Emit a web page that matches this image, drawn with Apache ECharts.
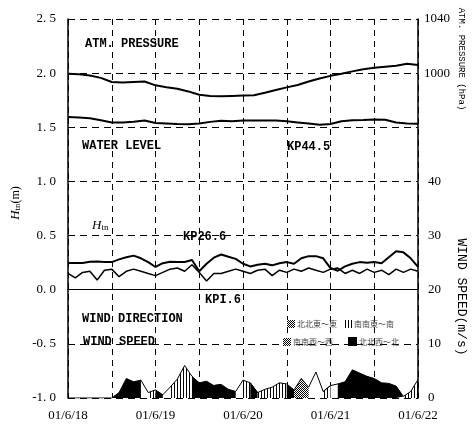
<!DOCTYPE html>
<html><head><meta charset="utf-8">
<script src="https://cdn.jsdelivr.net/npm/echarts/dist/echarts.min.js"></script>
<style>html,body{margin:0;padding:0;background:#fff}#c{width:473px;height:429px}</style>
</head><body><div id="c"></div>
<script>
// ---- data ----
const dateLabels = ['01/6/18','01/6/19','01/6/20','01/6/21','01/6/22'];
const pressureHours = [0,3,6,9,12,15,18,21,24,27,30,33,36,39,42,45,48,51,54,57,60,63,66,69,72,75,78,81,84,87,90,93,96];
const pressure = [999.6,999.2,998.3,996.5,993.5,993,993.5,993.8,991,989.5,988.5,986.5,984,983.2,983,983.2,983.4,983.6,985.5,987.5,989.5,991.2,993.8,996,998,999.5,1001.3,1002.8,1004,1004.8,1005.5,1007,1006];
const waterLevel = [1.595,1.59,1.583,1.565,1.545,1.545,1.552,1.562,1.54,1.535,1.53,1.528,1.535,1.55,1.56,1.555,1.562,1.562,1.562,1.562,1.555,1.545,1.535,1.523,1.53,1.555,1.565,1.568,1.572,1.57,1.545,1.535,1.533];
const hnHours = [0,2,4,6,8,10,12,14,16,18,20,22,24,26,28,30,32,34,36,38,40,42,44,46,48,50,52,54,56,58,60,62,64,66,68,70,72,74,76,78,80,82,84,86,88,90,92,94,96];
const hnKP266 = [0.246,0.246,0.246,0.258,0.26,0.256,0.255,0.28,0.30,0.315,0.29,0.255,0.21,0.245,0.258,0.255,0.256,0.275,0.17,0.24,0.296,0.325,0.305,0.285,0.24,0.215,0.23,0.24,0.225,0.245,0.255,0.24,0.29,0.31,0.31,0.29,0.2,0.175,0.215,0.24,0.255,0.25,0.255,0.245,0.3,0.355,0.345,0.29,0.21];
const hnKP16 = [0.15,0.11,0.16,0.17,0.09,0.18,0.19,0.12,0.17,0.19,0.17,0.15,0.13,0.16,0.19,0.2,0.17,0.23,0.16,0.08,0.15,0.15,0.17,0.19,0.17,0.15,0.18,0.19,0.13,0.18,0.16,0.19,0.17,0.2,0.18,0.16,0.19,0.2,0.15,0.18,0.15,0.19,0.16,0.18,0.14,0.19,0.16,0.19,0.17];
const windHours = [0,2,4,6,8,10,12,14,16,18,20,22,24,26,28,30,32,34,36,38,40,42,44,46,48,50,52,54,56,58,60,62,64,66,68,70,72,74,76,78,80,82,84,86,88,90,92,94,96];
const windSpeed = [0,0,0,0,0,0,0,1.0,3.6,3.0,3.3,1.0,1.5,0.6,2.0,3.5,6.0,4.0,2.8,3.1,2.3,2.5,1.6,1.2,3.3,2.8,1.0,1.6,2.0,2.8,2.6,1.5,3.6,2.0,4.8,1.2,2.3,2.6,3.0,5.2,4.6,4.0,3.6,2.8,2.7,2.2,0.3,1.2,3.4];
const windDir = ['W','W','W','W','W','W','B','B','B','B','W','H','B','W','H','H','H','B','B','B','H','B','B','W','H','B','H','H','H','H','B','D','D','W','W','H','W','B','B','B','B','B','B','B','B','B','H','H','H'];
const legendTexts = ['北北東～東','南南東～南','南南西～西','北北西～北'];

// ---- patterns ----
function pat(kind){
  const c=document.createElement('canvas');
  if(kind==='H'){c.width=3;c.height=2;const g=c.getContext('2d');g.fillStyle='#fff';g.fillRect(0,0,3,2);g.fillStyle='#000';g.fillRect(0,0,1,2);}
  else {c.width=2;c.height=2;const g=c.getContext('2d');g.fillStyle='#fff';g.fillRect(0,0,2,2);g.fillStyle='#000';g.fillRect(0,0,1,1);g.fillRect(1,1,1,1);}
  return {image:c,repeat:'repeat'};
}
const fills = {W:'#fff', H:pat('H'), D:pat('D'), B:'#000'};

const zip = (xs,ys)=>xs.map((x,i)=>[x,ys[i]]);
const windSeries = ['W','H','D','B'].map(cat=>({
  type:'line', yAxisIndex:2, symbol:'none', silent:true, z:3,
  data: windHours.map((h,i)=>[h,(windDir[i]===cat||(i>0&&windDir[i-1]===cat))?windSpeed[i]:null]),
  lineStyle:{color:'#000',width:1}, areaStyle:{color:fills[cat],opacity:1}
}));

const lineS = (data,yi,w)=>({type:'line',yAxisIndex:yi,symbol:'none',silent:true,z:4,data,lineStyle:{color:'#000',width:w}});
const ann = (text,x,y,extra)=>Object.assign({type:'text',x,y,z:10,style:{text,font:'bold 12px "Liberation Mono"',fill:'#000',textVerticalAlign:'middle'}},extra||{});

const numFont = {fontFamily:'Liberation Serif',fontSize:13,color:'#000'};
const option = {
  animation:false,
  grid:{left:68,right:55,top:19,bottom:31},
  xAxis:{type:'value',min:0,max:96,interval:12,
    axisLine:{lineStyle:{color:'#000'}},axisTick:{show:false},
    splitLine:{show:true,lineStyle:{color:'#000',type:[6,5],width:1}},
    axisLabel:Object.assign({margin:11,formatter:v=>v%24===0?dateLabels[v/24]:''},numFont)},
  yAxis:[
    {type:'value',min:-1,max:2.5,interval:0.5,position:'left',
      axisLine:{show:true,lineStyle:{color:'#000',width:1.5}},axisTick:{show:false},
      splitLine:{show:true,lineStyle:{color:'#000',type:[7,5],width:1}},
      axisLabel:Object.assign({margin:12,formatter:v=>v.toFixed(1).replace('.','. ')},numFont)},
    {type:'value',min:760,max:1040,interval:40,position:'right',
      axisLine:{show:true,lineStyle:{color:'#000',width:1.5}},axisTick:{show:false},splitLine:{show:false},
      axisLabel:Object.assign({margin:6,formatter:v=>v>=1000?String(v):''},numFont)},
    {type:'value',min:0,max:70,interval:10,position:'right',
      axisLine:{show:false},axisTick:{show:false},splitLine:{show:false},
      axisLabel:Object.assign({margin:10,formatter:v=>v<=40?String(v):''},numFont)}
  ],
  series:[
    ...windSeries,
    lineS(zip(pressureHours,pressure),1,2),
    lineS(zip(pressureHours,waterLevel),0,2),
    lineS(zip(hnHours,hnKP266),0,2),
    lineS(zip(hnHours,hnKP16),0,1.5)
  ],
  graphic:{elements:[
    ann('ATM. PRESSURE',85,44),
    ann('WATER LEVEL',82,146),
    ann('KP44.5',287,147),
    ann('KP26.6',183,237),
    ann('KPI.6',205,300),
    ann('WIND DIRECTION',82,319),
    ann('WIND SPEED',83,342),
    {type:'text',x:92,y:226,z:10,style:{text:'{h|H}{s|tn}',textVerticalAlign:'middle',rich:{h:{font:'italic 13px "Liberation Serif"',fill:'#000'},s:{font:'9px "Liberation Serif"',fill:'#000',verticalAlign:'bottom'}}}},
    {type:'text',x:16,y:203,rotation:Math.PI/2,z:10,style:{text:'{h|H}{s|tn}{n|(m)}',textAlign:'center',textVerticalAlign:'middle',rich:{h:{font:'italic 13px "Liberation Serif"',fill:'#000'},s:{font:'9px "Liberation Serif"',fill:'#000',verticalAlign:'bottom'},n:{font:'12px "Liberation Serif"',fill:'#000'}}}},
    {type:'text',x:461,y:59,rotation:-Math.PI/2,z:10,style:{text:'ATM. PRESSURE (hPa)',font:'9px "Liberation Mono"',fill:'#000',textAlign:'center',textVerticalAlign:'middle'}},
    {type:'text',x:461,y:297,rotation:-Math.PI/2,z:10,style:{text:'WIND SPEED(m/s)',font:'13px "Liberation Mono"',fill:'#000',textAlign:'center',textVerticalAlign:'middle'}},
    // legend
    {type:'rect',shape:{x:287,y:320,width:8,height:8},z:10,style:{fill:fills.D,stroke:null}},
    {type:'text',x:297,y:324,z:10,style:{text:legendTexts[0],font:'8px "Noto Sans CJK JP"',fill:'#444',textVerticalAlign:'middle'}},
    {type:'rect',shape:{x:344,y:320,width:8,height:8},z:10,style:{fill:fills.H,stroke:null}},
    {type:'text',x:354,y:324,z:10,style:{text:legendTexts[1],font:'8px "Noto Sans CJK JP"',fill:'#444',textVerticalAlign:'middle'}},
    {type:'rect',shape:{x:283,y:338,width:8,height:8},z:10,style:{fill:fills.D,stroke:null}},
    {type:'text',x:293,y:342,z:10,style:{text:legendTexts[2],font:'8px "Noto Sans CJK JP"',fill:'#444',textVerticalAlign:'middle'}},
    {type:'rect',shape:{x:348,y:337,width:9,height:9},z:10,style:{fill:'#000'}},
    {type:'text',x:359,y:342,z:10,style:{text:legendTexts[3],font:'8px "Noto Sans CJK JP"',fill:'#444',textVerticalAlign:'middle'}}
  ]}
};
echarts.init(document.getElementById('c')).setOption(option);
</script></body></html>
